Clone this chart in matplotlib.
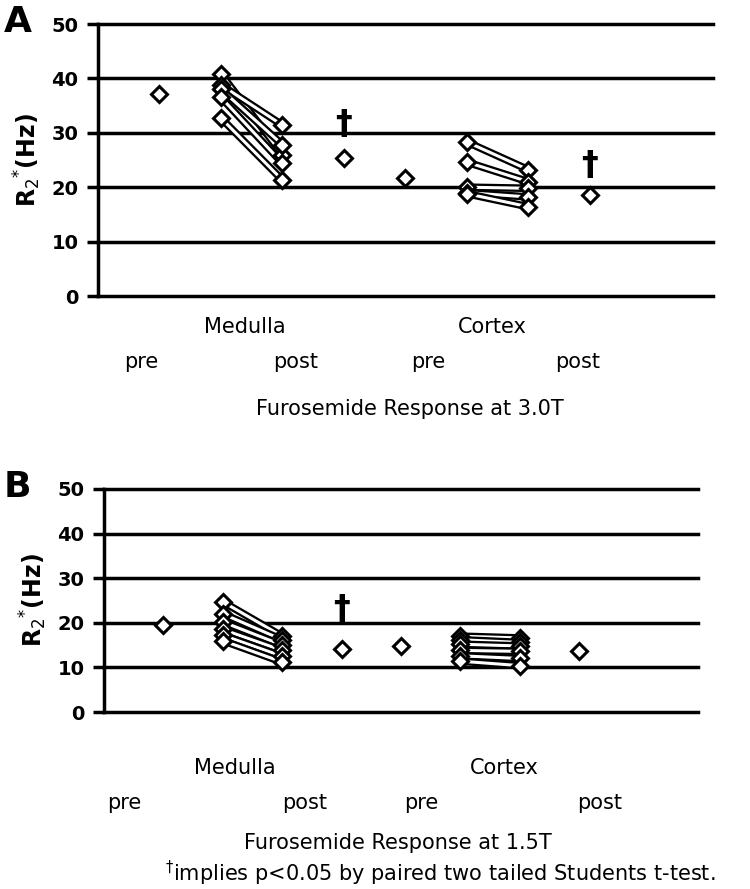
import matplotlib
matplotlib.use("Agg")
import matplotlib.pyplot as plt
import matplotlib.patheffects as pe

plt.rcParams['font.family'] = ['DejaVu Sans']

# ---- data ----
yticks = [0, 10, 20, 30, 40, 50]

A_med_pre = [40.8, 38.8, 38.0, 36.5, 32.7]
A_med_post = [26.0, 31.4, 27.8, 24.4, 21.3]
A_cor_pre = [28.3, 24.6, 20.0, 19.0, 18.8]
A_cor_post = [23.2, 21.0, 19.8, 18.2, 16.4]
A_means = [37.1, 25.4, 21.7, 18.6]   # medulla pre, medulla post, cortex pre, cortex post
A_dagger = [31.5, 24.0]              # y position of significance marks (medulla, cortex)

B_med_pre = [24.7, 22.0, 20.2, 18.5, 17.2, 16.0]
B_med_post = [17.0, 16.2, 15.0, 13.8, 12.5, 11.2]
B_cor_pre = [17.0, 16.2, 15.2, 13.8, 12.6, 11.4]
B_cor_post = [16.6, 15.6, 14.8, 13.6, 12.0, 10.4]
B_means = [19.4, 14.2, 14.9, 13.7]
B_dagger = [23.0]

mean_pos = [1, 4, 5, 8]
pair_pos = {'med': (2, 3), 'cor': (6, 7)}

fig = plt.figure(figsize=(7.5, 8.89), dpi=100)


def draw_panel(rect, letter, letter_xy, med_pre, med_post, cor_pre, cor_post, means,
               dagger_pos, dagger_y, lbl_pos):
    ax = fig.add_axes(rect)
    ax.set_xlim(0, 10)
    ax.set_ylim(0, 50)
    for s in ['top', 'right', 'bottom']:
        ax.spines[s].set_visible(False)
    ax.spines['left'].set_linewidth(2.5)
    ax.set_yticks(yticks)
    ax.set_yticklabels([str(t) for t in yticks], fontsize=14, fontweight='bold')
    ax.tick_params(axis='y', length=8, width=2.5, direction='out', pad=6)
    ax.set_xticks([])
    for t in yticks:
        ax.axhline(t, color='black', lw=2.5, zorder=1, clip_on=False)

    stroke = [pe.Stroke(linewidth=5.5, foreground='black'), pe.Normal()]
    for (x0, x1), pre, post in [(pair_pos['med'], med_pre, med_post),
                                (pair_pos['cor'], cor_pre, cor_post)]:
        for a, b in zip(pre, post):
            ax.plot([x0, x1], [a, b], color='white', lw=2.2, zorder=3,
                    path_effects=stroke, solid_capstyle='round')
        ax.plot([x0] * len(pre), pre, ls='none', marker='D', ms=8, mfc='white',
                mec='black', mew=2.2, zorder=4)
        ax.plot([x1] * len(post), post, ls='none', marker='D', ms=8, mfc='white',
                mec='black', mew=2.2, zorder=4)
    ax.plot(mean_pos, means, ls='none', marker='D', ms=8, mfc='white',
            mec='black', mew=2.2, zorder=4)
    for xp, yp in zip(dagger_pos, dagger_y):
        ax.text(xp, yp, '\u2020', ha='center', va='center', fontsize=24,
                fontweight='bold', zorder=5)

    ax.set_ylabel(r'R$_2$$^{*}$(Hz)', fontsize=17, fontweight='bold', labelpad=6)
    fig.text(letter_xy[0] / 750, 1 - letter_xy[1] / 889, letter, fontsize=26,
             fontweight='bold', ha='left', va='center')

    for txt, (px, py) in lbl_pos.items():
        fig.text(px / 750, 1 - py / 889, txt.split('#')[0], ha='center', va='center',
                 fontsize=15)
    return ax


draw_panel([98 / 750, 1 - 296 / 889, (713 - 98) / 750, (296 - 24) / 889], 'A', (4, 22),
           A_med_pre, A_med_post, A_cor_pre, A_cor_post, A_means, [4, 8], A_dagger,
           {'Medulla': (245, 327), 'Cortex': (492, 327),
            'pre#1': (141, 362), 'post#1': (296, 362), 'pre#2': (428, 362), 'post#2': (578, 362),
            'Furosemide Response at 3.0T': (410, 409)})

draw_panel([104 / 750, 1 - 712 / 889, (698 - 104) / 750, (712 - 489) / 889], 'B', (4, 487),
           B_med_pre, B_med_post, B_cor_pre, B_cor_post, B_means, [4], B_dagger,
           {'Medulla': (235, 768), 'Cortex': (504, 768),
            'pre#1': (124, 803), 'post#1': (305, 803), 'pre#2': (421, 803), 'post#2': (600, 803),
            'Furosemide Response at 1.5T': (398, 843)})

fig.text(440 / 750, 1 - 873 / 889,
         r'$^{\dagger}$implies p<0.05 by paired two tailed Students t-test.',
         ha='center', va='center', fontsize=15)

fig.savefig('out.png', dpi=100)
